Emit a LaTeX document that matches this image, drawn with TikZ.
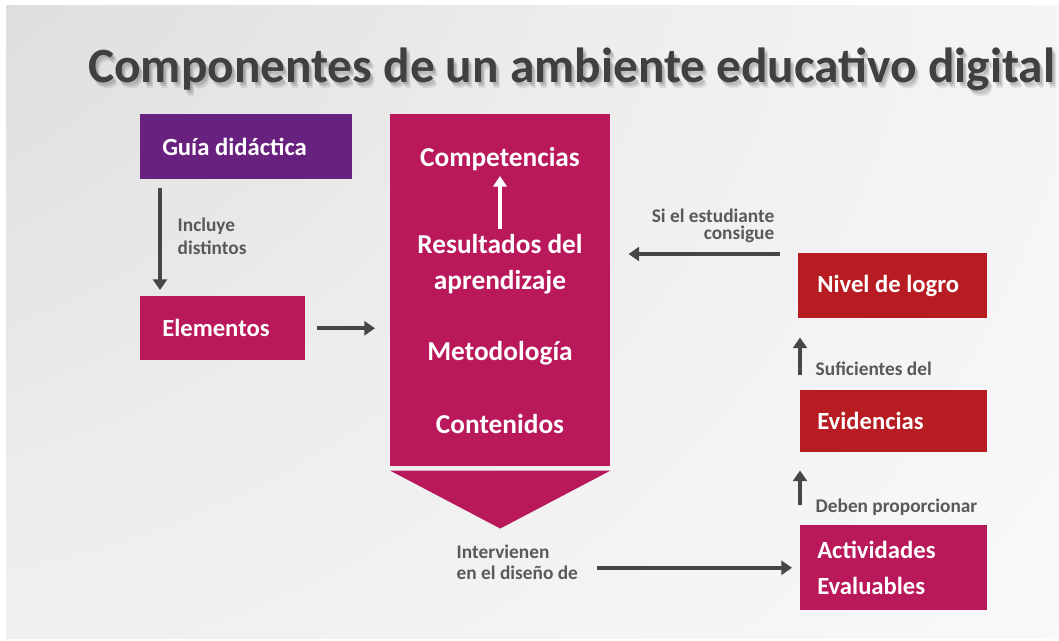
\documentclass[tikz,border=0pt]{standalone}
\usepackage{fontspec}
\setmainfont{Carlito}
\usetikzlibrary{calc,arrows.meta}

\definecolor{guiapurple}{RGB}{104,33,127}
\definecolor{rose}{RGB}{185,24,90}
\definecolor{logrored}{RGB}{182,28,33}
\definecolor{notegray}{RGB}{89,89,89}
\definecolor{arrowgray}{RGB}{70,70,70}
\definecolor{titlegray}{RGB}{64,64,64}

% gray in the top left corner, fading to white
\pgfdeclareradialshading{backshade}{\pgfpoint{-50bp}{50bp}}{color(0bp)=(black!25); color(20bp)=(black!14); color(40bp)=(black!7); color(60bp)=(black!3); color(85bp)=(white); color(140bp)=(white)}

\begin{document}
\begin{tikzpicture}[x=0.75pt,y=-0.75pt]

	% BACKGROUND (one unit = one pixel of the slide)
	\useasboundingbox (0,0) rectangle (1059,641);
	\fill[white] (0,0) rectangle (1059,641);
	\begin{scope}
		\clip (6,6) rectangle (1059,638);
		\shade[shading=backshade] (6,6) rectangle (1059,900);
	\end{scope}

	% styles
	\tikzstyle{box}=[anchor=north west, inner xsep=16.5pt, inner ysep=0pt, align=flush left, text=white, font=\bfseries\fontsize{18.5}{27}\selectfont];
	\tikzstyle{inbox}=[anchor=base, align=center, text=white, font=\bfseries\fontsize{20.5}{27}\selectfont];
	\tikzstyle{note}=[text=notegray, font=\bfseries\fontsize{14.5}{17.25}\selectfont];
	\tikzstyle{arr}=[draw=arrowgray, line width=3pt, -{Triangle[length=8pt,width=10.5pt]}];
	\tikzstyle{titletext}=[anchor=base west, inner sep=0pt, font=\bfseries\fontsize{37}{40}\selectfont];

	% title with a soft shadow
	\node (shadowa) [titletext, text=black, opacity=.10] at (90,85) {Componentes de un ambiente educativo digital};
	\node (shadowb) [titletext, text=black, opacity=.10] at (91,87) {Componentes de un ambiente educativo digital};
	\node (shadowc) [titletext, text=black, opacity=.08] at (92,89) {Componentes de un ambiente educativo digital};
	\node (title) [titletext, text=titlegray] at (88,83) {Componentes de un ambiente educativo digital};

	% left column
	\node (guia) [box, fill=guiapurple, text width=126pt, minimum height=48.75pt] at (140,114) {Guía didáctica};
	\node (elem) [box, fill=rose, text width=90.75pt, minimum height=48pt] at (140,296) {Elementos};

	% central block and its chevron
	\node (centro) [anchor=north west, fill=rose, minimum width=165pt, minimum height=264pt, inner sep=0pt] at (390,114) {};
	\fill[rose] ($(centro.south west)+(0,4)$) -- ($(centro.south east)+(0,4)$) -- ($(centro.south)+(0,62)$) -- cycle;

	\node (comp) [inbox] at (500,167) {Competencias};
	\node (result) [inbox] at (500,290) {Resultados del\\aprendizaje};
	\node (metod) [inbox] at (500,360) {Metodología};
	\node (conten) [inbox] at (500,433) {Contenidos};
	\draw[white, line width=3pt, -{Triangle[length=8pt,width=10pt]}, shorten <=1pt] (result.north) -- (comp.south);

	% right column
	\node (nivel) [box, fill=logrored, inner xsep=14.25pt, text width=113.25pt, minimum height=48.75pt] at (798,253) {Nivel de logro};
	\node (evid) [box, fill=logrored, inner xsep=12.75pt, text width=114.75pt, minimum height=46.5pt] at (800,390) {Evidencias};
	\node (activ) [box, fill=rose, inner xsep=12.75pt, text width=114.75pt, minimum height=63.75pt] at (800,525) {Actividades\\Evaluables};

	% notes on the arrows (base = last line)
	\node (incluye) [note, anchor=base west, align=left] at (173,255) {Incluye\\distintos};
	\node (si) [note, anchor=base east, align=right, font=\bfseries\fontsize{14.5}{12.75}\selectfont] at (779,240) {Si el estudiante\\consigue};
	\node (sufic) [note, anchor=base west] at (811,375) {Suficientes del};
	\node (deben) [note, anchor=base west] at (811,512) {Deben proporcionar};
	\node (interv) [note, anchor=base west, align=left, font=\bfseries\fontsize{14.5}{15.75}\selectfont] at (452,579) {Intervienen\\en el diseño de};

	% arrows
	\coordinate (sitail) at (780,254);
	\draw[arr, shorten <=6pt, shorten >=4.5pt] ([xshift=15pt]guia.south west) -- ([xshift=15pt]elem.north west);
	\draw[arr, shorten <=8.25pt, shorten >=11.25pt] (elem.east) -- (elem.east -| centro.west);
	\draw[arr, shorten >=13.5pt] (sitail) -- (sitail -| centro.east);
	\draw[arr, shorten <=11.25pt, shorten >=14.25pt] (evid.north west) -- (evid.north west |- nivel.south);
	\draw[arr, shorten <=15pt, shorten >=13.5pt] (activ.north west) -- (activ.north west |- evid.south);
	\draw[arr, shorten <=10.5pt, shorten >=6pt] (interv.east |- activ.west) -- (activ.west);

\end{tikzpicture}
\end{document}
